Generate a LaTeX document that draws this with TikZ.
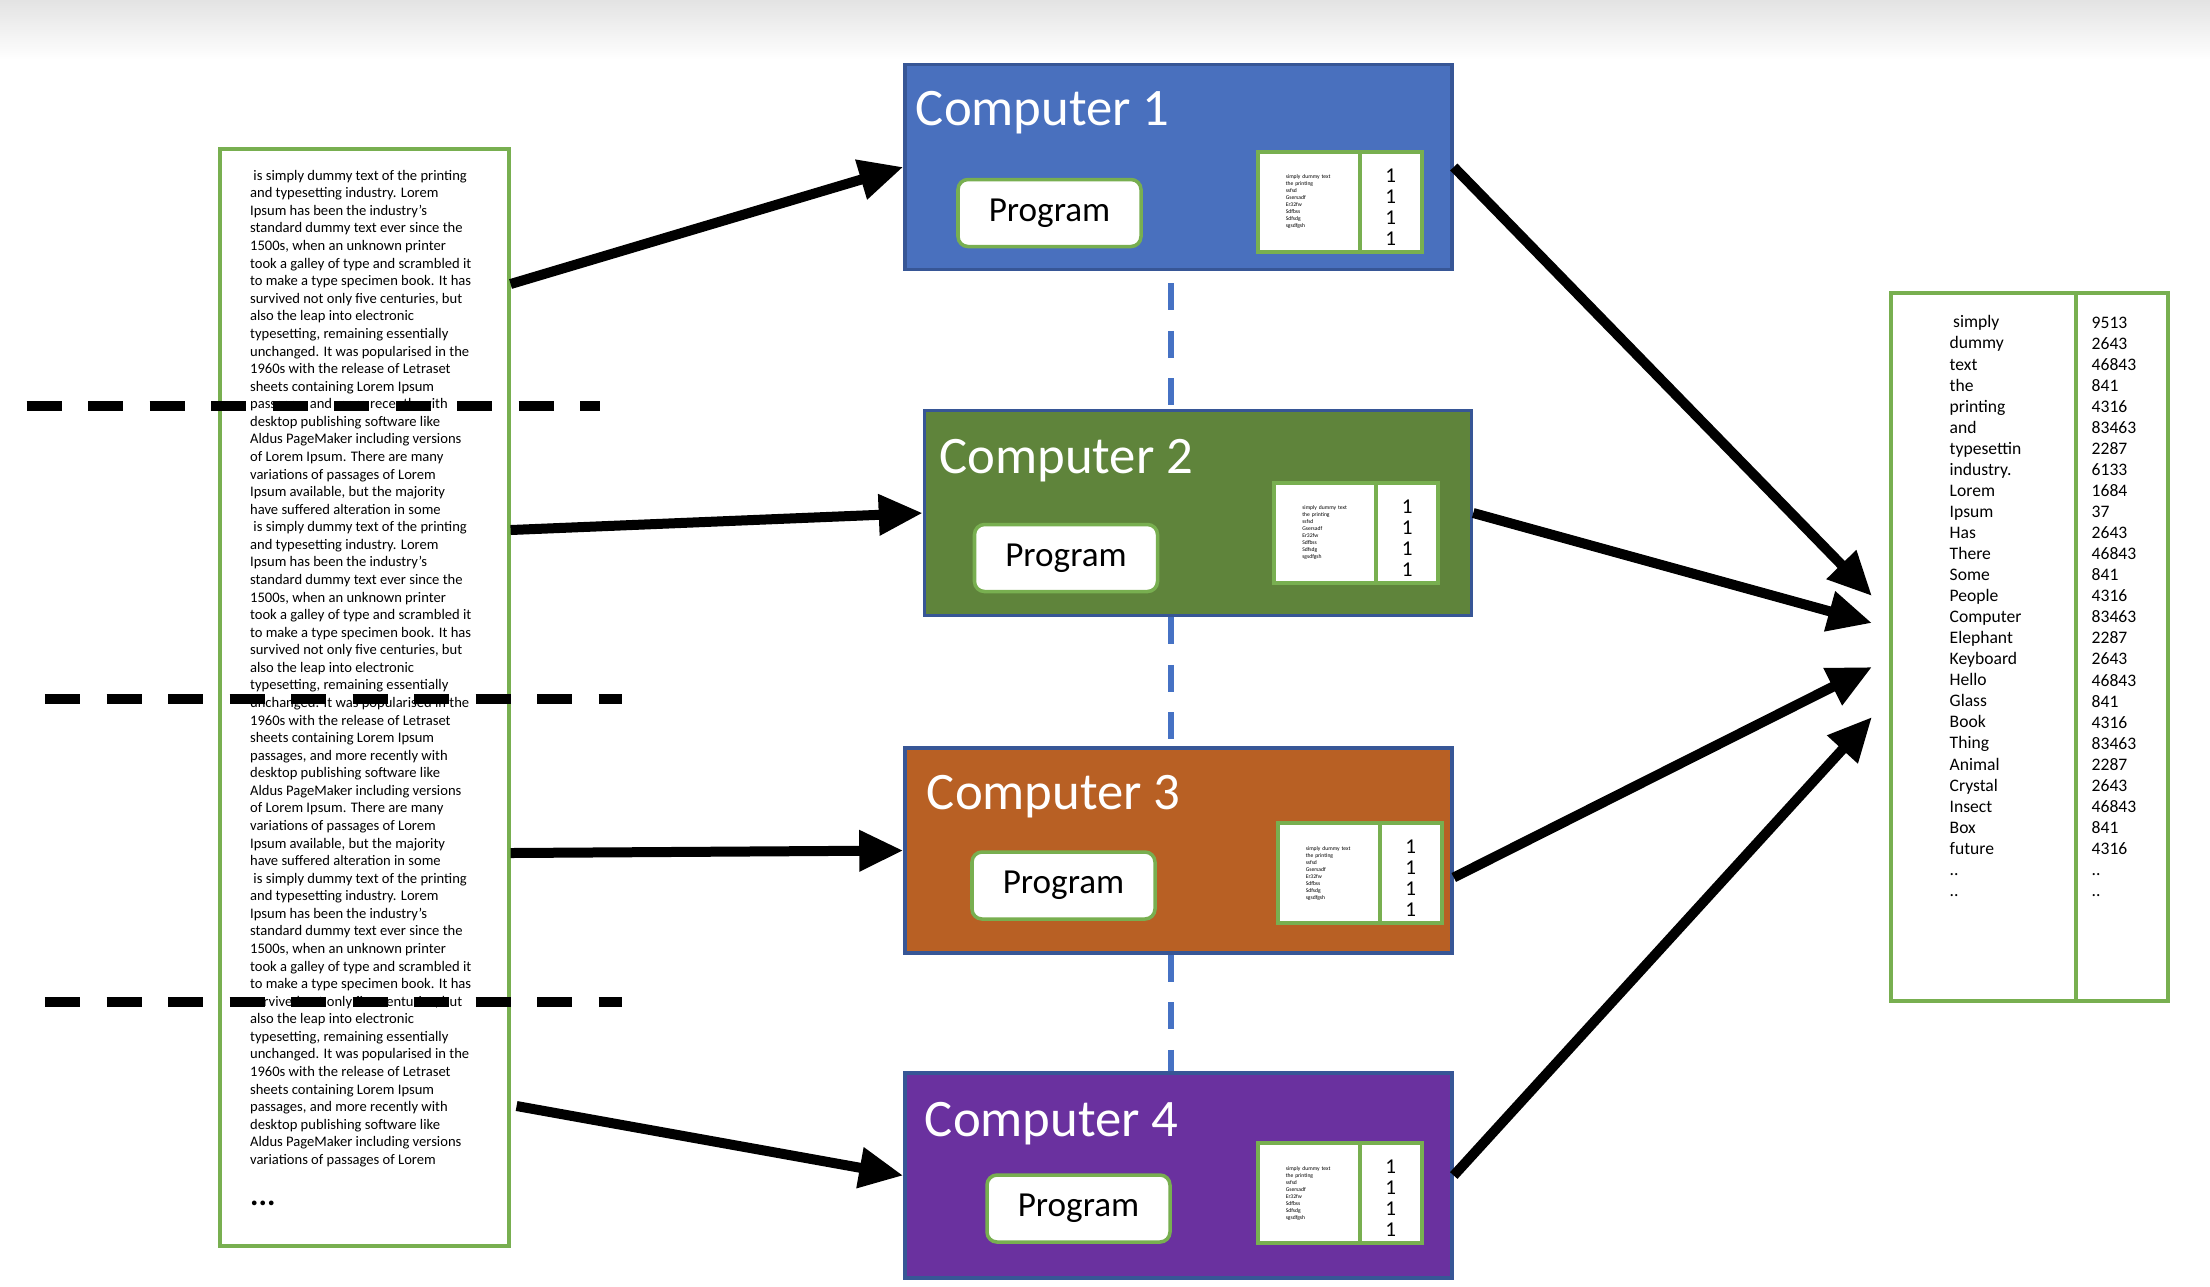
\documentclass[tikz,border=0pt]{standalone}
\usepackage{fontspec}
\setmainfont{Carlito}
\usetikzlibrary{arrows.meta,positioning}

\definecolor{c1fill}{RGB}{73,112,190}
\definecolor{c2fill}{RGB}{95,132,59}
\definecolor{c3fill}{RGB}{184,96,36}
\definecolor{c4fill}{RGB}{106,49,159}
\definecolor{compline}{RGB}{55,86,150}
\definecolor{tabgreen}{RGB}{120,175,80}
\definecolor{linkblue}{RGB}{70,114,196}

% one block of the input document
\newcommand{\loremhead}{%
\hspace*{0.23em}is simply dummy text of the printing\\
and typesetting industry. Lorem\\
Ipsum has been the industry's\\
standard dummy text ever since the\\
1500s, when an unknown printer\\
took a galley of type and scrambled it\\
to make a type specimen book. It has\\
survived not only five centuries, but\\
also the leap into electronic\\
typesetting, remaining essentially\\
unchanged. It was popularised in the\\
1960s with the release of Letraset\\
sheets containing Lorem Ipsum\\
passages, and more recently with\\
desktop publishing software like\\
Aldus PageMaker including versions}
\newcommand{\loremtail}{of Lorem Ipsum. There are many\\variations of passages of Lorem\\Ipsum available, but the majority\\have suffered alteration in some}
% word list inside every computer
\newcommand{\minilist}{simply dummy text\\the printing\\ssfsd\\Gsersadf\\Er32fw\\Sdfbss\\Sdfsdg\\sgsdfgsh}

\tikzset{
	%Define standard arrow tip
	>={Triangle[length=0.44cm,width=0.39cm]},
	%Define style for computers
	comp/.style={
		rectangle,
		draw=compline, line width=1pt,
		minimum width=5.47cm,
		minimum height=2.05cm,
		inner sep=0pt},
	ctitle/.style={
		anchor=base west,
		inner sep=0pt,
		text=white,
		font=\fontsize{15}{17}\selectfont},
	prog/.style={
		rectangle,
		rounded corners=0.1cm,
		draw=tabgreen, line width=1pt,
		fill=white,
		minimum width=1.83cm,
		minimum height=0.67cm,
		inner sep=0pt,
		anchor=north west,
		font=\fontsize{10}{12}\selectfont},
	cell/.style={
		rectangle,
		draw=tabgreen, line width=1.2pt,
		fill=white,
		minimum height=1.0cm,
		inner sep=0pt, outer sep=0pt},
	tiny/.style={
		cell,
		minimum width=1.02cm,
		text width=0.46cm,
		align=left,
		font=\fontsize{1.6}{2}\selectfont},
	ones/.style={
		cell,
		minimum width=0.62cm},
	onestext/.style={
		inner sep=0pt,
		align=center,
		font=\fontsize{6}{5.97}\selectfont},
	% Define arrow style
	pil/.style={
		->,
		line width=0.1cm},
	cut/.style={
		line width=0.1cm,
		dash pattern=on 0.35cm off 0.265cm},
	link/.style={
		draw=linkblue,
		line width=0.065cm,
		dash pattern=on 0.27cm off 0.205cm}
}

\begin{document}
\begin{tikzpicture}[node distance=1cm, auto,]
	\useasboundingbox (0,0) rectangle (22.1,-12.86);
	\shade[top color=black!11, bottom color=white] (0,0) rectangle (22.1,-0.6);

	% input text
	\node[draw=tabgreen, line width=0.9pt, minimum width=2.89cm, minimum height=10.97cm, inner sep=0pt] (src) at (3.645,-6.975) {};
	\node[anchor=north west, inner sep=0pt, align=left, font=\fontsize{4.15}{5.0}\selectfont] (lorem) at ([xshift=0.31cm,yshift=-0.22cm]src.north west) {\loremhead\\\loremtail\\\loremhead\\\loremtail\\\loremhead\\variations of passages of Lorem};
	\node[anchor=base west, inner sep=0pt, font=\fontsize{9}{10}\selectfont\bfseries] (more) at ([yshift=-0.38cm]lorem.south west) {...};

	\draw[cut] (0.266,-4.06) -- (6.0,-4.06);
	\draw[cut] (0.45,-6.99) -- (6.22,-6.99);
	\draw[cut] (0.45,-10.02) -- (6.22,-10.02);

	% computers
	\node[comp, fill=c1fill] (c1) at (11.785,-1.67) {};
	\node[comp, fill=c2fill] (c2) at (11.98,-5.13) {};
	\node[comp, fill=c3fill] (c3) at (11.785,-8.505) {};
	\node[comp, fill=c4fill] (c4) at (11.785,-11.755) {};

	\node[ctitle] (t1) at ([xshift=0.12cm,yshift=-0.63cm]c1.north west) {Computer 1};
	\node[ctitle] (t2) at ([xshift=0.16cm,yshift=-0.65cm]c2.north west) {Computer 2};
	\node[ctitle] (t3) at ([xshift=0.23cm,yshift=-0.63cm]c3.north west) {Computer 3};
	\node[ctitle] (t4) at ([xshift=0.21cm,yshift=-0.655cm]c4.north west) {Computer 4};

	\node[prog] (p1) at ([xshift=0.53cm,yshift=-1.15cm]c1.north west) {Program};
	\node[prog] (p2) at ([xshift=0.50cm,yshift=-1.14cm]c2.north west) {Program};
	\node[prog] (p3) at ([xshift=0.67cm,yshift=-1.04cm]c3.north west) {Program};
	\node[prog] (p4) at ([xshift=0.82cm,yshift=-1.02cm]c4.north west) {Program};

	\node[ones, anchor=north east] (n1) at ([xshift=-0.32cm,yshift=-0.89cm]c1.north east) {};
	\node[tiny, left=0pt of n1] (w1) {\minilist};
	\node[ones, anchor=north east] (n2) at ([xshift=-0.35cm,yshift=-0.74cm]c2.north east) {};
	\node[tiny, left=0pt of n2] (w2) {\minilist};
	\node[ones, anchor=north east] (n3) at ([xshift=-0.12cm,yshift=-0.77cm]c3.north east) {};
	\node[tiny, left=0pt of n3] (w3) {\minilist};
	\node[ones, anchor=north east] (n4) at ([xshift=-0.32cm,yshift=-0.72cm]c4.north east) {};
	\node[tiny, left=0pt of n4] (w4) {\minilist};
	\node[onestext] (o1) at ([yshift=-0.05cm]n1.center) {1\\1\\1\\1};
	\node[onestext] (o2) at ([yshift=-0.05cm]n2.center) {1\\1\\1\\1};
	\node[onestext] (o3) at ([yshift=-0.05cm]n3.center) {1\\1\\1\\1};
	\node[onestext] (o4) at ([yshift=-0.05cm]n4.center) {1\\1\\1\\1};

	\coordinate (spine) at (11.71,0);
	\draw[link, shorten <=0.12cm] (c1.south -| spine) -- (c2.north -| spine);
	\draw[link] (c2.south -| spine) -- (c3.north -| spine);
	\draw[link] (c3.south -| spine) -- (c4.north -| spine);

	% merged result
	\node[cell, minimum width=1.85cm, minimum height=7.08cm] (words) at (19.835,-6.47) {};
	\node[cell, minimum width=0.92cm, minimum height=7.08cm, right=0pt of words] (counts) {};
	\node[anchor=north west, inner sep=0pt, align=left, font=\fontsize{5}{5.99}\selectfont] (wordlist) at ([xshift=0.58cm,yshift=-0.22cm]words.north west) {\hspace*{0.2em}simply\\dummy\\text\\the\\printing\\and\\typesettin\\industry.\\Lorem\\Ipsum\\Has\\There\\Some\\People\\Computer\\Elephant\\Keyboard\\Hello\\Glass\\Book\\Thing\\Animal\\Crystal\\Insect\\Box\\future\\..\\..};
	\node[anchor=north west, inner sep=0pt, align=left, font=\fontsize{5}{5.99}\selectfont] (countlist) at ([xshift=0.15cm,yshift=-0.23cm]counts.north west) {9513\\2643\\46843\\841\\4316\\83463\\2287\\6133\\1684\\37\\2643\\46843\\841\\4316\\83463\\2287\\2643\\46843\\841\\4316\\83463\\2287\\2643\\46843\\841\\4316\\..\\..};

	\coordinate (in1) at ([xshift=-0.19cm,yshift=0.51cm]words.west);
	\coordinate (in2) at ([xshift=-0.19cm,yshift=0.24cm]words.west);
	\coordinate (in3) at ([xshift=-0.19cm,yshift=-0.20cm]words.west);
	\coordinate (in4) at ([xshift=-0.19cm,yshift=-0.70cm]words.west);

	\draw[pil] ([yshift=4.135cm]src.east) -- (c1.west);
	\draw[pil] ([yshift=1.675cm]src.east) -- (c2.west);
	\draw[pil] ([yshift=-1.555cm]src.east) -- (c3.west);
	\draw[pil] ([xshift=0.06cm,yshift=-4.085cm]src.east) -- (c4.west);

	\draw[pil] (c1.east) -- (in1);
	\draw[pil] (c2.east) -- (in2);
	\draw[pil] ([yshift=-0.27cm]c3.east) -- (in3);
	\draw[pil] (c4.east) -- (in4);
\end{tikzpicture}
\end{document}
